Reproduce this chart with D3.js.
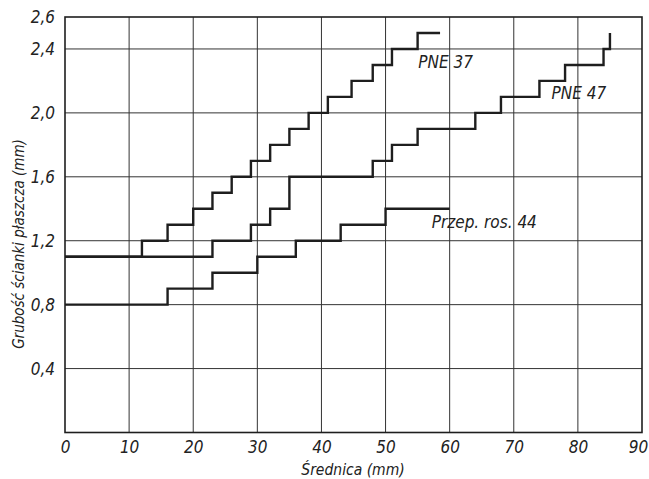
<!DOCTYPE html>
<html><head><meta charset="utf-8">
<script src="https://cdn.jsdelivr.net/npm/d3@7"></script>
<style>
html,body{margin:0;padding:0;background:#fff;}
text{font-family:"Liberation Sans Narrow","DejaVu Sans Condensed","Roboto Condensed",sans-serif;font-style:italic;fill:#222;}
</style></head>
<body>
<svg id="c" width="649" height="479"></svg>
<script>
// Data
const xTicks = [0, 10, 20, 30, 40, 50, 60, 70, 80, 90];
const yTickVals = [0.4, 0.8, 1.2, 1.6, 2.0, 2.4, 2.6];
const yTickLabels = ["0,4", "0,8", "1,2", "1,6", "2,0", "2,4", "2,6"];
const yGrid = [0.4, 0.8, 1.2, 1.6, 2.0, 2.4];

const pne37X = [0, 12, 16, 20, 23, 26, 29, 32, 35, 38, 41, 44.7, 48, 51, 55, 58.5];
const pne37Y = [1.1, 1.2, 1.3, 1.4, 1.5, 1.6, 1.7, 1.8, 1.9, 2.0, 2.1, 2.2, 2.3, 2.4, 2.5, 2.5];

const pne47X = [0, 23, 29, 32, 35, 48, 51, 55, 64, 68, 74, 78, 84, 85];
const pne47Y = [1.1, 1.2, 1.3, 1.4, 1.6, 1.7, 1.8, 1.9, 2.0, 2.1, 2.2, 2.3, 2.4, 2.5];

const przepX = [0, 16, 23, 30, 36, 43, 50, 60];
const przepY = [0.8, 0.9, 1.0, 1.1, 1.2, 1.3, 1.4, 1.4];

const seriesLabels = [
  {text: "PNE 37", x: 55.1, y: 2.28},
  {text: "PNE 47", x: 75.9, y: 2.085},
  {text: "Przep. ros. 44", x: 57.2, y: 1.28}
];

const svg = d3.select("#c");
const x = d3.scaleLinear().domain([0, 90]).range([65, 642]);
const y = d3.scaleLinear().domain([0, 2.6]).range([432.5, 17]);
const ink = "#1e1e1e";

// grid
svg.append("g").selectAll("line").data(xTicks.slice(1, -1)).join("line")
  .attr("x1", d => x(d)).attr("x2", d => x(d))
  .attr("y1", y(0)).attr("y2", y(2.6))
  .attr("stroke", "#333").attr("stroke-width", 1);
svg.append("g").selectAll("line").data(yGrid).join("line")
  .attr("x1", x(0)).attr("x2", x(90))
  .attr("y1", d => y(d)).attr("y2", d => y(d))
  .attr("stroke", "#333").attr("stroke-width", 1);

// frame
svg.append("rect").attr("x", x(0)).attr("y", y(2.6))
  .attr("width", x(90) - x(0)).attr("height", y(0) - y(2.6))
  .attr("fill", "none").attr("stroke", ink).attr("stroke-width", 1.6);

// x axis labels
const xAxis = d3.axisBottom(x).tickValues(xTicks).tickSize(0).tickPadding(8)
  .tickFormat(d => String(d));
const gx = svg.append("g").attr("transform", `translate(0,${y(0)})`).call(xAxis);
gx.select(".domain").remove();
gx.selectAll("text").style("font-size", "17px").attr("fill", ink)
  .attr("dx", d => d === 90 ? -4 : 0);

// y axis labels
const yAxis = d3.axisLeft(y).tickValues(yTickVals).tickSize(0).tickPadding(10)
  .tickFormat((d, i) => yTickLabels[i]);
const gy = svg.append("g").attr("transform", `translate(${x(0)},0)`).call(yAxis);
gy.select(".domain").remove();
gy.selectAll("text").style("font-size", "17px").attr("fill", ink);

// step lines
const line = d3.line().x(d => x(d[0])).y(d => y(d[1])).curve(d3.curveStepAfter);
[[pne37X, pne37Y], [pne47X, pne47Y], [przepX, przepY]].forEach(([xs, ys]) => {
  svg.append("path").datum(xs.map((v, i) => [v, ys[i]]))
    .attr("d", line).attr("fill", "none").attr("stroke", ink)
    .attr("stroke-width", 2.4).attr("stroke-linejoin", "miter");
});

// series labels
svg.append("g").selectAll("text").data(seriesLabels).join("text")
  .attr("x", d => x(d.x)).attr("y", d => y(d.y))
  .attr("text-anchor", "start").style("font-size", "17px")
  .text(d => d.text);

// axis titles
svg.append("text").attr("x", 353).attr("y", 475).attr("text-anchor", "middle")
  .style("font-size", "15.5px").text("Średnica (mm)");
svg.append("text").attr("transform", "translate(24,244) rotate(-90)")
  .attr("text-anchor", "middle").style("font-size", "15px")
  .text("Grubość ścianki płaszcza (mm)");
</script>
</body></html>
